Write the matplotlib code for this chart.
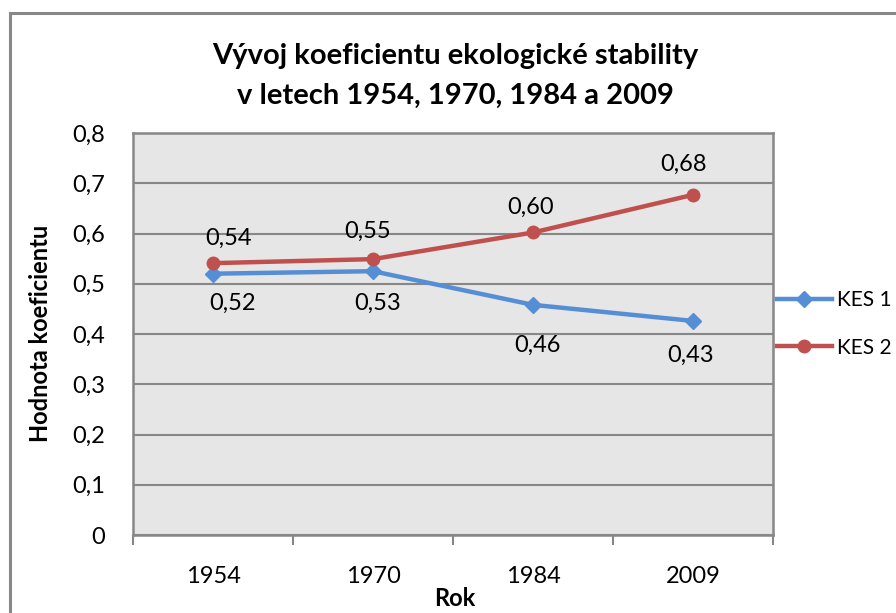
import matplotlib.pyplot as plt
from matplotlib.patches import Rectangle
from matplotlib.lines import Line2D

plt.rcParams['font.family'] = ['Lato', 'DejaVu Sans']

# data
years = ['1954', '1970', '1984', '2009']
kes1 = [0.52, 0.525, 0.458, 0.426]
kes2 = [0.541, 0.549, 0.602, 0.677]
kes1_labels = ['0,52', '0,53', '0,46', '0,43']
kes2_labels = ['0,54', '0,55', '0,60', '0,68']
yticks = [0, 0.1, 0.2, 0.3, 0.4, 0.5, 0.6, 0.7, 0.8]
ytick_labels = ['0', '0,1', '0,2', '0,3', '0,4', '0,5', '0,6', '0,7', '0,8']

blue = '#558ED5'
red = '#C0504D'
grey = '#878787'

fig = plt.figure(figsize=(8.96, 6.13), dpi=100)
# outer chart border (runs off the right/bottom edge like the screenshot)
fig.patches.append(Rectangle((10 / 896, -0.05), 1.0, 1 - 13 / 613 + 0.05,
                             transform=fig.transFigure, fill=False,
                             edgecolor=grey, linewidth=2.2))

ax = fig.add_axes([133 / 896, 78 / 613, 640 / 896, 402 / 613])
ax.set_facecolor('#E6E6E6')
x = list(range(len(years)))

ax.plot(x, kes1, color=blue, lw=3.2, marker='D', ms=8, zorder=3)
ax.plot(x, kes2, color=red, lw=3.2, marker='o', ms=9, zorder=3)

# data labels (offsets in points)
off1 = [(14, -21), (3, -23), (3, -29), (-2, -25)]
off2 = [(11, 18), (-4, 20), (-2, 18), (-7, 22)]
for i in x:
    ax.annotate(kes1_labels[i], (i, kes1[i]), xytext=off1[i], textcoords='offset points',
                ha='center', va='center', fontsize=17)
    ax.annotate(kes2_labels[i], (i, kes2[i]), xytext=off2[i], textcoords='offset points',
                ha='center', va='center', fontsize=17)

ax.set_xlim(-0.5, 3.5)
ax.set_ylim(0, 0.8)
ax.set_yticks(yticks)
ax.set_yticklabels(ytick_labels, fontsize=17)
ax.yaxis.grid(True, color=grey, lw=1.5)
ax.set_axisbelow(True)
ax.tick_params(axis='y', length=0, pad=20)

ax.set_xticks([-0.5, 0.5, 1.5, 2.5, 3.5])
ax.set_xticklabels([])
ax.set_xticks(x, minor=True)
ax.set_xticklabels(years, minor=True, fontsize=17)
ax.tick_params(axis='x', which='major', length=7, width=1.5, color=grey, direction='out')
ax.tick_params(axis='x', which='minor', length=0, pad=22)

for s in ax.spines.values():
    s.set_color(grey)
    s.set_linewidth(1.8)

fig.text(455 / 896, 1 - 56 / 613, 'Vývoj koeficientu ekologické stability',
         ha='center', va='center', fontsize=21, fontweight='bold')
fig.text(455 / 896, 1 - 96 / 613, 'v letech 1954, 1970, 1984 a 2009',
         ha='center', va='center', fontsize=21, fontweight='bold')
fig.text(455 / 896, 1 - 599 / 613, 'Rok', ha='center', va='center',
         fontsize=17, fontweight='bold')
fig.text(40 / 896, 1 - 333 / 613, 'Hodnota koeficientu', ha='center', va='center',
         rotation=90, fontsize=17, fontweight='bold')

handles = [Line2D([], [], color=blue, lw=3.2, marker='D', ms=8),
           Line2D([], [], color=red, lw=3.2, marker='o', ms=9)]
fig.legend(handles, ['KES 1', 'KES 2'], loc='center left',
           bbox_to_anchor=(769 / 896, 1 - 324 / 613), frameon=False,
           fontsize=15, handlelength=2.6, handletextpad=0.25, labelspacing=1.3,
           borderaxespad=0)

fig.savefig('out.png', dpi=100)
